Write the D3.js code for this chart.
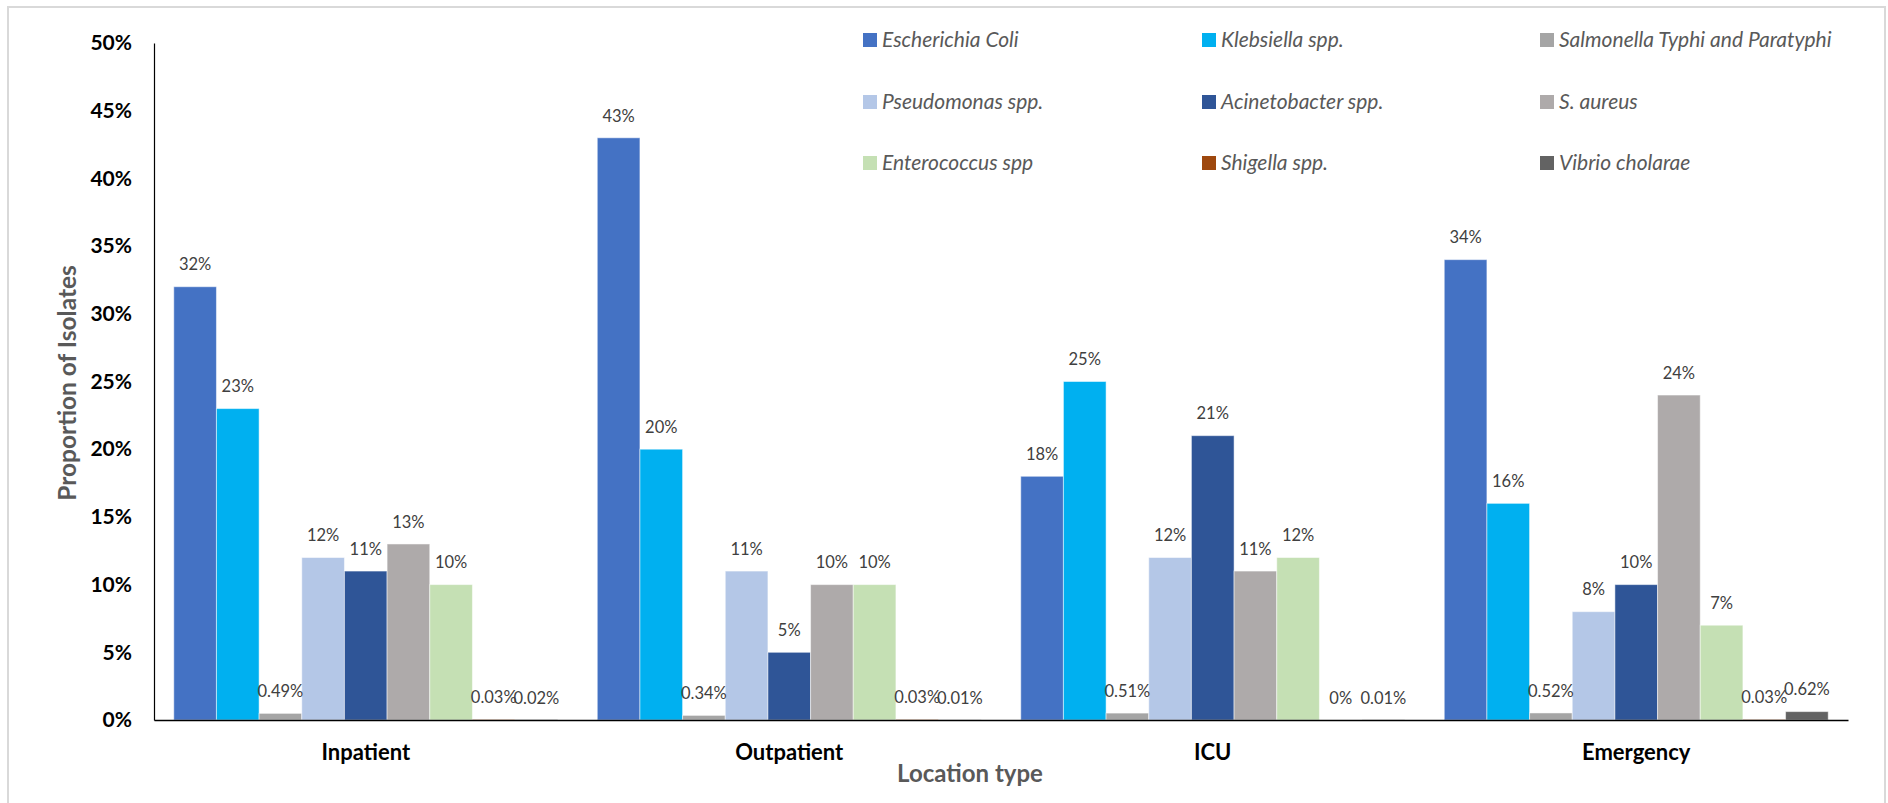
<!DOCTYPE html>
<html>
<head>
<meta charset="utf-8">
<script src="https://cdn.jsdelivr.net/npm/d3@7"></script>
<style>
  html, body { margin: 0; padding: 0; background: #ffffff; }
  svg { display: block; }
</style>
</head>
<body>
<svg id="chart" width="1888" height="803"></svg>
<script>
// Location types (x categories)
const locations = ["Inpatient", "Outpatient", "ICU", "Emergency"];

// Organisms (series), in legend / bar order
const organisms = [
  "Escherichia Coli", "Klebsiella spp.", "Salmonella Typhi and Paratyphi",
  "Pseudomonas spp.", "Acinetobacter spp.", "S. aureus",
  "Enterococcus spp", "Shigella spp.", "Vibrio cholarae"
];

// Proportion of isolates (%) per location, one array per organism
const escherichiaColi = [32, 43, 18, 34];
const klebsiella      = [23, 20, 25, 16];
const salmonella      = [0.49, 0.34, 0.51, 0.52];
const pseudomonas     = [12, 11, 12, 8];
const acinetobacter   = [11, 5, 21, 10];
const sAureus         = [13, 10, 11, 24];
const enterococcus    = [10, 10, 12, 7];
const shigella        = [0.03, 0.03, 0, 0.03];
const vibrio          = [0.02, 0.01, 0.01, 0.62];

// Y-axis ticks (%)
const yTicks = [0, 5, 10, 15, 20, 25, 30, 35, 40, 45, 50];

const seriesValues = [escherichiaColi, klebsiella, salmonella, pseudomonas,
  acinetobacter, sAureus, enterococcus, shigella, vibrio];

const colors = ["#4472C4", "#00B0F0", "#A5A5A5", "#B4C7E7", "#2F5597",
  "#AEAAAA", "#C5E0B4", "#9E480E", "#636363"];

const svg = d3.select("#chart");

// outer frame
svg.append("rect")
  .attr("x", 8).attr("y", 7).attr("width", 1877).attr("height", 800)
  .attr("fill", "none").attr("stroke", "#d9d9d9").attr("stroke-width", 2);

const plotLeft = 154, plotRight = 1848, plotTop = 43, plotBottom = 720;

const x0 = d3.scaleBand().domain(locations)
  .range([plotLeft, plotRight]).paddingInner(0.0933).paddingOuter(0.0467);
const x1 = d3.scaleBand().domain(organisms).range([0, x0.bandwidth()]);
const y = d3.scaleLinear().domain([0, 50]).range([plotBottom, plotTop]);

// bars
const groups = svg.append("g").selectAll("g")
  .data(locations)
  .join("g")
  .attr("transform", d => `translate(${x0(d)},0)`);

groups.selectAll("rect")
  .data((loc, li) => organisms.map((o, si) => ({ org: o, si, v: seriesValues[si][li] })))
  .join("rect")
  .attr("x", d => x1(d.org))
  .attr("y", d => y(d.v))
  .attr("width", x1.bandwidth())
  .attr("height", d => plotBottom - y(d.v))
  .attr("fill", d => colors[d.si])
  .attr("stroke", "#ffffff")
  .attr("stroke-opacity", 0.5)
  .attr("stroke-width", 1);

// value labels
groups.selectAll("text")
  .data((loc, li) => organisms.map((o, si) => ({ org: o, si, v: seriesValues[si][li] })))
  .join("text")
  .attr("x", d => x1(d.org) + x1.bandwidth() / 2)
  .attr("y", d => y(d.v) - 22)
  .attr("dy", "0.35em")
  .attr("text-anchor", "middle")
  .attr("font-family", "Lato, sans-serif")
  .attr("font-size", 16.5)
  .attr("fill", "#404040")
  .text(d => String(d.v) + "%");

// y axis
const yAxis = svg.append("g")
  .attr("transform", `translate(${plotLeft},0)`)
  .call(d3.axisLeft(y).tickValues(yTicks).tickSize(0).tickPadding(22).tickFormat(d => d + "%"));
yAxis.select(".domain").attr("stroke", "#000").attr("stroke-width", 1.2);
yAxis.selectAll("text")
  .attr("font-family", "Lato, sans-serif")
  .attr("font-size", 21)
  .attr("font-weight", "bold")
  .attr("fill", "#000");

// x axis
const xAxis = svg.append("g")
  .attr("transform", `translate(0,${plotBottom})`)
  .call(d3.axisBottom(x0).tickSize(0).tickPadding(24));
xAxis.select(".domain").attr("stroke", "#000").attr("stroke-width", 1.6);
xAxis.selectAll("text")
  .attr("font-family", "Lato, sans-serif")
  .attr("font-size", 22)
  .attr("font-weight", "bold")
  .attr("fill", "#000");

// axis titles
svg.append("text")
  .attr("transform", "translate(67,383) rotate(-90)")
  .attr("text-anchor", "middle")
  .attr("dy", "0.35em")
  .attr("font-family", "Lato, sans-serif")
  .attr("font-size", 24.5)
  .attr("font-weight", "bold")
  .attr("fill", "#595959")
  .text("Proportion of Isolates");

svg.append("text")
  .attr("x", 970).attr("y", 774)
  .attr("text-anchor", "middle")
  .attr("dy", "0.35em")
  .attr("font-family", "Lato, sans-serif")
  .attr("font-size", 24)
  .attr("font-weight", "bold")
  .attr("fill", "#595959")
  .text("Location type");

// legend: 3 columns x 3 rows
const legendCols = [863, 1202, 1540];
const legendRows = [40, 102, 163];
const legend = svg.append("g").selectAll("g")
  .data(organisms)
  .join("g")
  .attr("transform", (d, i) => `translate(${legendCols[i % 3]},${legendRows[Math.floor(i / 3)]})`);
legend.append("rect")
  .attr("x", 0).attr("y", -7).attr("width", 14).attr("height", 14)
  .attr("fill", (d, i) => colors[i]);
legend.append("text")
  .attr("x", 19).attr("dy", "0.35em")
  .attr("font-family", "Lato, sans-serif")
  .attr("font-size", 21)
  .attr("font-style", "italic")
  .attr("fill", "#595959")
  .text(d => d);
</script>
</body>
</html>
